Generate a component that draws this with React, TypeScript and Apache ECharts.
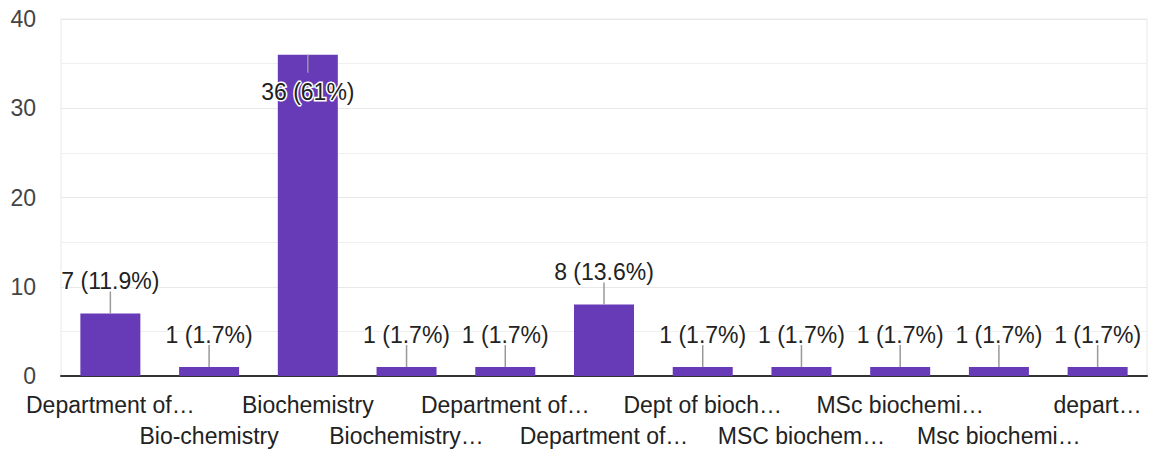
import React, { useEffect, useRef } from "react";
import * as echarts from "echarts";

const categories = [
  "Department of…",
  "Bio-chemistry",
  "Biochemistry",
  "Biochemistry…",
  "Department of…",
  "Department of…",
  "Dept of bioch…",
  "MSC biochem…",
  "MSc biochemi…",
  "Msc biochemi…",
  "depart…",
];
const values = [7, 1, 36, 1, 1, 8, 1, 1, 1, 1, 1];
const yTicks = [0, 10, 20, 30, 40];

const FONT = "'Liberation Sans', Arial, sans-serif";

export default function App() {
  const ref = useRef<HTMLDivElement>(null);
  useEffect(() => {
    document.body.style.margin = "0";
    if (!ref.current) return;
    const chart = echarts.init(ref.current, null, { renderer: "svg" });
    const total = values.reduce((a, b) => a + b, 0);
    const pct = (v: number) => String(Math.round((v / total) * 1000) / 10);
    const yMax = yTicks[yTicks.length - 1];
    const insideThreshold = yMax * 0.85;

    chart.setOption({
      animation: false,
      textStyle: { fontFamily: FONT },
      grid: {
        left: 61,
        right: 7,
        top: 19,
        bottom: 76,
        show: true,
        borderColor: "#e8e8e8",
        borderWidth: 1,
      },
      xAxis: {
        type: "category",
        data: categories,
        axisLine: { show: true, lineStyle: { color: "#333", width: 2 } },
        axisTick: { show: false },
        axisLabel: {
          interval: 0,
          color: "#222",
          fontSize: 23,
          fontFamily: FONT,
          lineHeight: 31,
          margin: 13,
          formatter: (v: string, i: number) => (i % 2 ? "\n" + v : v),
        },
      },
      yAxis: {
        type: "value",
        min: 0,
        max: yMax,
        interval: 10,
        axisLine: { show: false },
        axisTick: { show: false },
        axisLabel: { color: "#444", fontSize: 23, fontFamily: FONT, margin: 25 },
        splitLine: { lineStyle: { color: "#e8e8e8", width: 1 } },
        minorTick: { show: false, splitNumber: 2 },
        minorSplitLine: { show: true, lineStyle: { color: "#efefef", width: 1 } },
      },
      series: [
        {
          type: "bar",
          data: values.map((v) => ({
            value: v,
            label:
              v > insideThreshold
                ? { position: "insideTop", distance: 26 }
                : { position: "top", distance: 21 },
          })),
          barWidth: 60,
          itemStyle: { color: "#673ab7" },
          label: {
            show: true,
            color: "#222",
            fontSize: 23,
            fontFamily: FONT,
            textBorderColor: "#fff",
            textBorderWidth: 3,
            formatter: (p: any) => `${p.value} (${pct(p.value)}%)`,
          },
          z: 2,
        },
        {
          type: "custom",
          data: values.map((v, i) => [i, v]),
          z: 3,
          silent: true,
          renderItem: (params: any, api: any) => {
            const i = api.value(0);
            const v = api.value(1);
            const p = api.coord([i, v]);
            const inside = v > insideThreshold;
            const y2 = inside ? p[1] + 18 : p[1] - 22;
            return {
              type: "line",
              shape: { x1: p[0], y1: p[1], x2: p[0], y2 },
              style: { stroke: "#999", lineWidth: 1.5 },
            };
          },
        },
      ],
    });
    return () => chart.dispose();
  }, []);
  return <div ref={ref} style={{ width: 1154, height: 452 }} />;
}
